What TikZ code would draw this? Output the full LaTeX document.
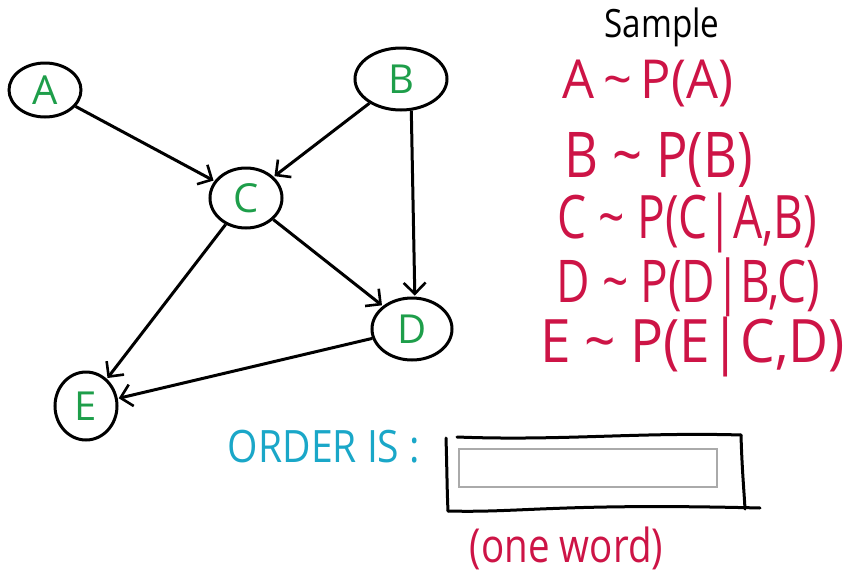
\documentclass[tikz,border=0pt]{standalone}
\usepackage{fontspec}
\usepackage{graphicx}
\setmainfont{Open Sans}
\usetikzlibrary{arrows.meta,shapes.geometric}
\definecolor{nodegreen}{HTML}{1E9E4A}
\definecolor{inkred}{HTML}{CD1446}
\definecolor{inkteal}{HTML}{1AA7C8}
\definecolor{boxgray}{HTML}{AAAAAA}
\tikzset{
  bnode/.style={ellipse, draw=black, line width=3pt, inner sep=0pt, text=nodegreen,
    font=\fontsize{40}{40}\selectfont},
  arr/.style={line width=3pt, -{Straight Barb[length=11pt,width=22pt,line width=2.6pt]}, shorten >=1pt},
  txt/.style={inner sep=0pt},
  hand/.style={line width=3pt, line cap=round, black}
}
\begin{document}
\begin{tikzpicture}[x=1pt,y=-1pt]
\useasboundingbox (0,0) rectangle (847,573);
% nodes
\node[bnode, minimum width=72pt, minimum height=54pt] (A) at (45,90) {A};
\node[bnode, minimum width=92pt, minimum height=62pt] (B) at (401,79) {B};
\node[bnode, minimum width=72pt, minimum height=60pt] (C) at (246,198) {C};
\node[bnode, minimum width=80pt, minimum height=62pt] (D) at (412,329) {D};
\node[bnode, minimum width=62pt, minimum height=68pt] (E) at (86,406) {E};
% edges
\draw[arr] (A) -- (C);
\draw[arr] (B) -- (C);
\draw[arr] (B.-72) -- (D.85);
\draw[arr] (C) -- (D);
\draw[arr] (C) -- (E);
\draw[arr] (D) -- (E);
% sampling text
\node[txt] (sample) at (662,27.5) {\resizebox*{115pt}{39pt}{Sample}};
\node[txt, text=inkred] (sa) at (648,83.5) {\resizebox*{170pt}{47pt}{A\,\textasciitilde\,P(A)}};
\node[txt, text=inkred] (sb) at (659,159.5) {\resizebox*{188pt}{55pt}{B \textasciitilde\ P(B)}};
\node[txt, text=inkred] (sc) at (687.5,223) {\resizebox*{259pt}{60pt}{C \textasciitilde\ P(C|A,B)}};
\node[txt, text=inkred] (sd) at (688.5,287.5) {\resizebox*{263pt}{59pt}{D \textasciitilde\ P(D|B,C)}};
\node[txt, text=inkred] (se) at (692.5,347) {\resizebox*{305pt}{60pt}{E \textasciitilde\ P(E|C,D)}};
% order
\node[txt, text=inkteal] (order) at (324,446.5) {\resizebox*{192pt}{33pt}{ORDER IS :}};
\node[draw=boxgray, line width=1.3pt, minimum width=258pt, minimum height=38pt, inner sep=0pt] (answer) at (588,468) {};
\draw[hand] (457,437) .. controls (560,441) and (640,432) .. (741,435);
\draw[hand] (741,435) .. controls (742,470) and (744,490) .. (745,509);
\draw[hand] (446,438) .. controls (447,470) and (447,490) .. (448,511);
\draw[hand] (448,511) .. controls (520,513) and (560,503) .. (760,508);
\node[txt, text=inkred] (oneword) at (566.5,548.5) {\resizebox*{193pt}{43pt}{(one word)}};
\end{tikzpicture}
\end{document}
